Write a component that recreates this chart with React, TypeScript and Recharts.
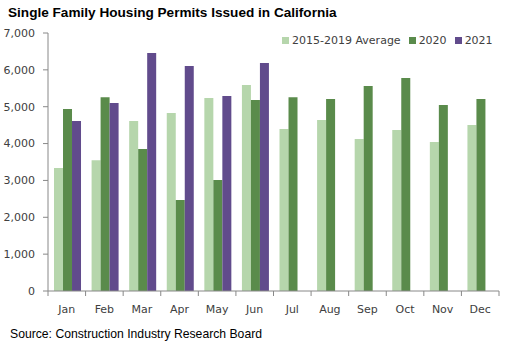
import { BarChart, Bar, XAxis, YAxis } from "recharts";

const months = ["Jan", "Feb", "Mar", "Apr", "May", "Jun", "Jul", "Aug", "Sep", "Oct", "Nov", "Dec"];
const avg1519 = [3340, 3550, 4610, 4830, 5235, 5590, 4395, 4640, 4125, 4370, 4040, 4505];
const y2020 = [4940, 5260, 3850, 2470, 3010, 5180, 5260, 5210, 5560, 5780, 5045, 5210];
const y2021 = [4610, 5100, 6455, 6105, 5290, 6185, null, null, null, null, null, null];
const yTicks = [0, 1000, 2000, 3000, 4000, 5000, 6000, 7000];

const series = [
  { key: "avg", name: "2015-2019 Average", color: "#B6D6AC" },
  { key: "y2020", name: "2020", color: "#5A8B4B" },
  { key: "y2021", name: "2021", color: "#614B8C" },
];

const data = months.map((m, i) => ({ month: m, avg: avg1519[i], y2020: y2020[i], y2021: y2021[i] }));

const W = 506;
const H = 342;
const M = { top: 33, right: 7, bottom: 0, left: 0 };
const Y_W = 48;
const X_H = 51;
const band = (W - M.left - M.right - Y_W) / months.length;

const axisGray = "#888888";
const textGray = "#404040";
const tickFont = "DejaVu Sans";

function MonthTick(props: any) {
  const { x, y, payload, index } = props;
  return (
    <g>
      <line x1={x - band / 2} x2={x - band / 2} y1={y} y2={y + 5} stroke={axisGray} />
      {index === months.length - 1 && (
        <line x1={x + band / 2} x2={x + band / 2} y1={y} y2={y + 5} stroke={axisGray} />
      )}
      <text x={x} y={y + 22} textAnchor="middle" fill={textGray} fontSize={11} fontFamily={tickFont}>
        {payload.value}
      </text>
    </g>
  );
}

export default function App() {
  return (
    <div style={{ position: "absolute", left: 0, top: 0, width: W, height: H, background: "#fff" }}>
      <div
        style={{
          position: "absolute",
          left: 8,
          top: 5,
          fontFamily: "Liberation Sans",
          fontWeight: "bold",
          fontSize: 13.6,
          color: "#000",
          whiteSpace: "nowrap",
        }}
      >
        Single Family Housing Permits Issued in California
      </div>
      <div
        style={{
          position: "absolute",
          left: 282,
          top: 34,
          display: "flex",
          fontFamily: tickFont,
          fontSize: 11,
          color: textGray,
          whiteSpace: "nowrap",
        }}
      >
        {series.map((s) => (
          <div key={s.key} style={{ display: "flex", alignItems: "center", marginRight: 8 }}>
            <span style={{ width: 7, height: 7, background: s.color, marginRight: 3, display: "inline-block" }} />
            {s.name}
          </div>
        ))}
      </div>
      <BarChart width={W} height={H} data={data} margin={M} barGap={0} barCategoryGap="16%">
        <XAxis
          dataKey="month"
          height={X_H}
          stroke={axisGray}
          tickLine={false}
          tickSize={0}
          tickMargin={0}
          tick={<MonthTick />}
          interval={0}
        />
        <YAxis
          width={Y_W}
          domain={[0, 7000]}
          ticks={yTicks}
          stroke={axisGray}
          tickSize={5}
          tickMargin={8}
          tick={{ fill: textGray, fontSize: 11, fontFamily: tickFont }}
          tickFormatter={(v: number) => v.toLocaleString("en-US")}
        />
        {series.map((s) => (
          <Bar key={s.key} dataKey={s.key} name={s.name} fill={s.color} isAnimationActive={false} />
        ))}
      </BarChart>
      <div
        style={{
          position: "absolute",
          left: 10,
          top: 327,
          fontFamily: "Liberation Sans",
          fontSize: 12.2,
          color: "#000",
          whiteSpace: "nowrap",
        }}
      >
        Source: Construction Industry Research Board
      </div>
    </div>
  );
}
